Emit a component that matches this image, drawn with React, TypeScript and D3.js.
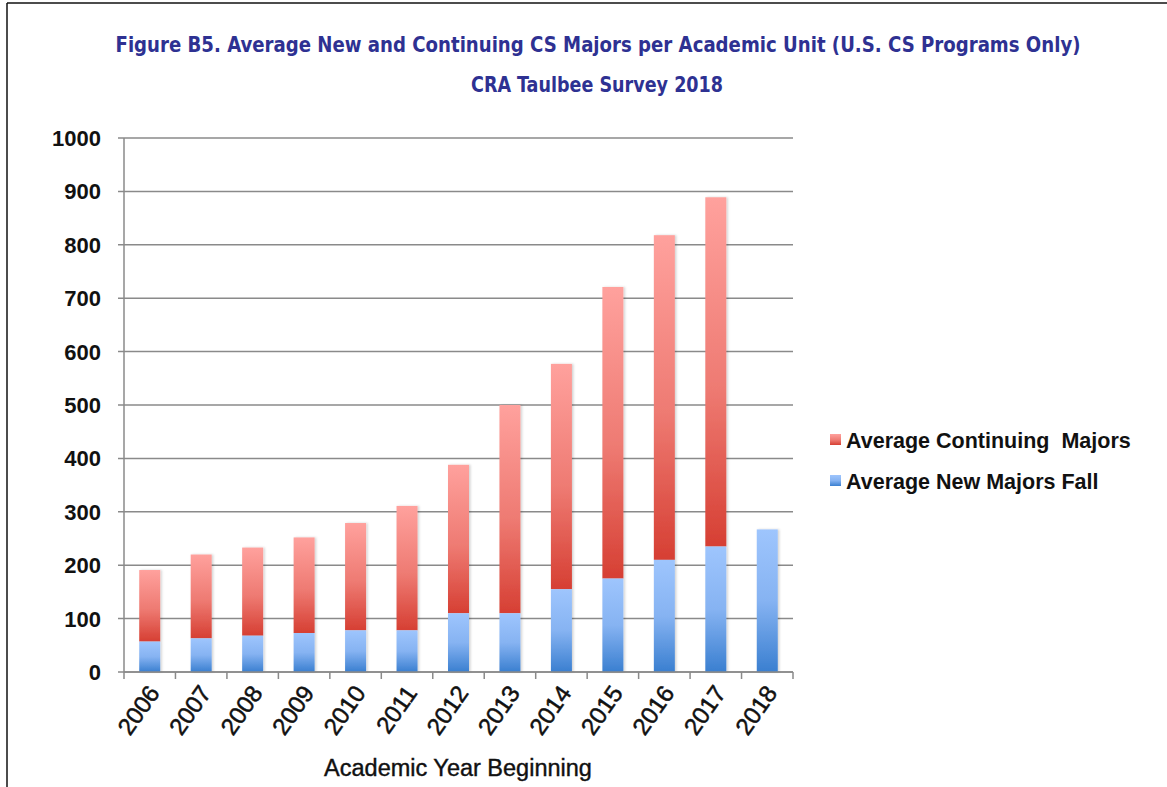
import React from "react";
import * as d3 from "d3";

const years = ["2006","2007","2008","2009","2010","2011","2012","2013","2014","2015","2016","2017","2018"];
const newMajors = [57, 63, 68, 73, 78, 78, 110, 110, 155, 175, 210, 235, 267];
const continuingMajors = [134, 157, 165, 179, 201, 233, 278, 390, 422, 546, 608, 654, 0];
const yTicks = [0, 100, 200, 300, 400, 500, 600, 700, 800, 900, 1000];
const seriesNames = ["Average Continuing  Majors", "Average New Majors Fall"];
const titleLines = [
  "Figure B5. Average New and Continuing CS Majors per Academic Unit (U.S. CS Programs Only)",
  "CRA Taulbee Survey 2018",
];
const xTitle = "Academic Year Beginning";

const W = 1167, H = 787;
const plot = { left: 124, right: 793, top: 138, bottom: 672 };

export default function App() {
  const x = d3.scaleBand<string>().domain(years).range([plot.left, plot.right]).paddingInner(0).paddingOuter(0);
  const y = d3.scaleLinear().domain([0, 1000]).range([plot.bottom, plot.top]);
  const bw = 21;
  const font = "'Liberation Sans', Arial, Helvetica, sans-serif";
  const titleFont = "'DejaVu Sans Condensed', 'DejaVu Sans', sans-serif";
  const titleColor = "#2e3192";
  const gridColor = "#8a8a8a";
  const textColor = "#111";

  return (
    <svg width={W} height={H} style={{ position: "absolute", left: 0, top: 0, background: "#fff" }}>
      <defs>
        <linearGradient id="gRed" x1="0" y1="0" x2="0" y2="1">
          <stop offset="0" stopColor="#ffa19d" />
          <stop offset="0.55" stopColor="#ee7a72" />
          <stop offset="1" stopColor="#d63f33" />
        </linearGradient>
        <linearGradient id="gBlue" x1="0" y1="0" x2="0" y2="1">
          <stop offset="0" stopColor="#9ec5fd" />
          <stop offset="0.5" stopColor="#86b3f2" />
          <stop offset="1" stopColor="#3a7fd0" />
        </linearGradient>
        <filter id="shadow" x="-30%" y="-5%" width="160%" height="110%">
          <feDropShadow dx="1.5" dy="0" stdDeviation="1.2" floodColor="#000" floodOpacity="0.18" />
        </filter>
      </defs>

      {/* frame */}
      <line x1={7} y1={3} x2={W} y2={3} stroke="#111" strokeWidth={1.5} />
      <line x1={7} y1={3} x2={7} y2={H} stroke="#111" strokeWidth={1.5} />

      {/* title */}
      <text x={598} y={52} textAnchor="middle" fontFamily={titleFont} fontStretch="condensed"
        fontWeight="bold" fontSize={22} fill={titleColor} textLength={965} lengthAdjust="spacingAndGlyphs">{titleLines[0]}</text>
      <text x={597} y={92} textAnchor="middle" fontFamily={titleFont} fontStretch="condensed"
        fontWeight="bold" fontSize={22} fill={titleColor} textLength={252} lengthAdjust="spacingAndGlyphs">{titleLines[1]}</text>

      {/* gridlines + y ticks */}
      {yTicks.map((t) => (
        <g key={t}>
          <line x1={plot.left - 6} x2={plot.right} y1={y(t)} y2={y(t)} stroke={gridColor} strokeWidth={1.5} />
          <text x={101} y={y(t)} dy="0.36em" textAnchor="end" fontFamily={font} fontSize={22} fontWeight="bold" fill={textColor}>{t}</text>
        </g>
      ))}
      {/* y axis line */}
      <line x1={plot.left} x2={plot.left} y1={plot.top} y2={plot.bottom + 7} stroke={gridColor} strokeWidth={1.5} />
      {/* x ticks at band boundaries */}
      {years.map((yr) => (
        <line key={"t" + yr} x1={(x(yr) as number) + x.bandwidth()} x2={(x(yr) as number) + x.bandwidth()} y1={plot.bottom} y2={plot.bottom + 7} stroke={gridColor} strokeWidth={1.5} />
      ))}

      {/* bars */}
      {years.map((yr, i) => {
        const cx = (x(yr) as number) + x.bandwidth() / 2;
        const n = newMajors[i];
        const c = continuingMajors[i];
        return (
          <g key={yr} filter="url(#shadow)">
            {c > 0 && (
              <rect x={cx - bw / 2} y={y(n + c)} width={bw} height={y(n) - y(n + c)} fill="url(#gRed)" />
            )}
            <rect x={cx - bw / 2} y={y(n)} width={bw} height={y(0) - y(n)} fill="url(#gBlue)" />
          </g>
        );
      })}

      {/* x axis baseline */}
      <line x1={plot.left} x2={plot.right} y1={plot.bottom} y2={plot.bottom} stroke={gridColor} strokeWidth={1.5} />

      {/* x labels */}
      {years.map((yr) => {
        const cx = (x(yr) as number) + x.bandwidth() / 2;
        return (
          <text key={"l" + yr} transform={`translate(${cx + 11},${plot.bottom + 21}) rotate(-55)`} textAnchor="end"
            fontFamily={font} fontSize={24} fill={textColor} stroke={textColor} strokeWidth={0.5}>{yr}</text>
        );
      })}

      <text x={458} y={776} textAnchor="middle" fontFamily={font} fontSize={23.5} fill={textColor} stroke={textColor} strokeWidth={0.4}>{xTitle}</text>

      {/* legend */}
      <rect x={830} y={434} width={11} height={11} fill="url(#gRed)" />
      <text x={846} y={448} fontFamily={font} fontSize={21.5} fontWeight="bold" fill={textColor} style={{ whiteSpace: "pre" }}>{seriesNames[0]}</text>
      <rect x={830} y={475} width={11} height={11} fill="url(#gBlue)" />
      <text x={846} y={489} fontFamily={font} fontSize={21.5} fontWeight="bold" fill={textColor} style={{ whiteSpace: "pre" }}>{seriesNames[1]}</text>
    </svg>
  );
}
